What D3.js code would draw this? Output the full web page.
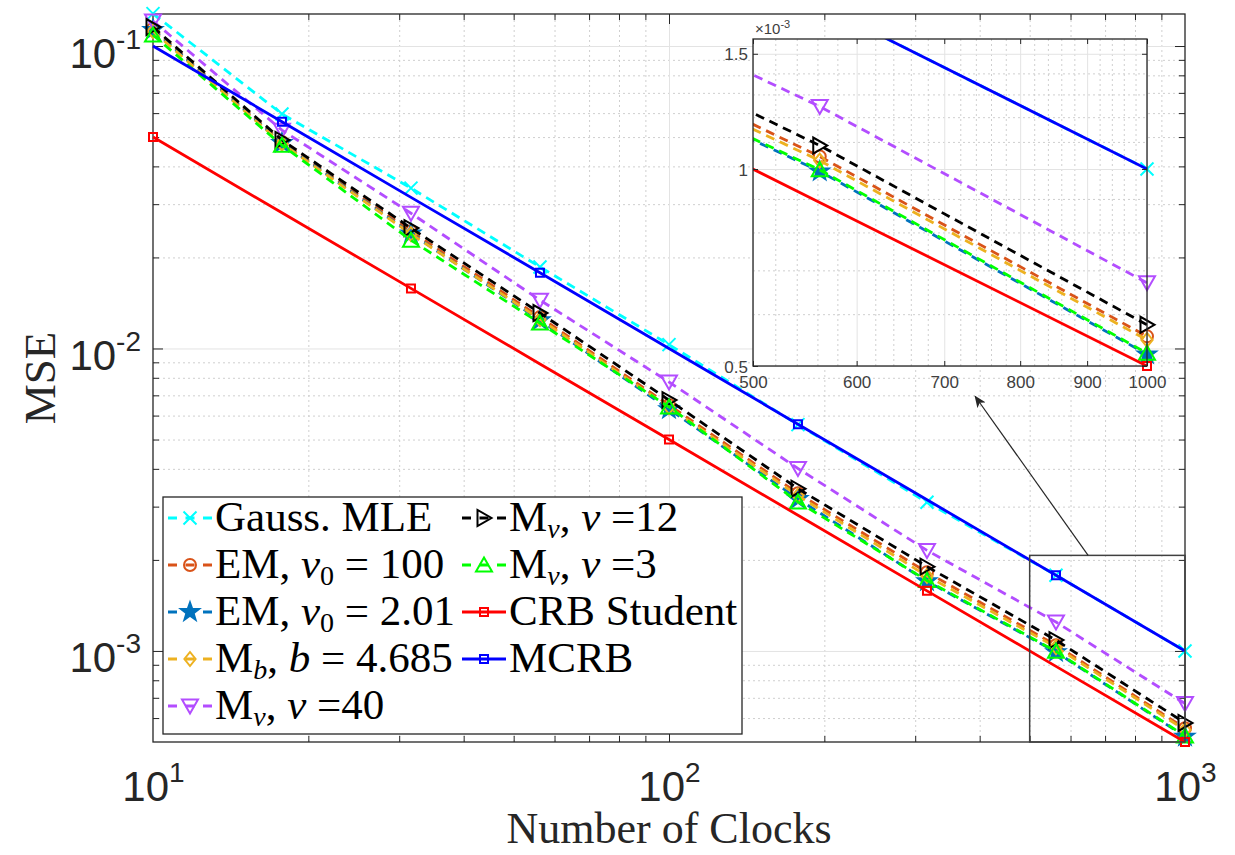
<!DOCTYPE html>
<html>
<head>
<meta charset="utf-8">
<script src="https://cdn.jsdelivr.net/npm/d3@7"></script>
<style>
  body { margin: 0; background: #fff; }
  svg { display: block; }
</style>
</head>
<body>
<svg id="chart" width="1235" height="855"></svg>
<script>
// ---- data --------------------------------------------------------------
const clocks   = [10, 17.78, 31.62, 56.23, 100, 177.8, 316.2, 562.3, 1000];

const gaussMLE = [0.128, 0.0596, 0.0339, 0.0186, 0.0103, 0.0056, 0.00310, 0.00178, 0.00100];
const em100    = [0.114, 0.0482, 0.0244, 0.0127, 0.0065, 0.00332, 0.00182, 0.001045, 0.000555];
const em201    = [0.113, 0.0478, 0.0240, 0.0124, 0.0063, 0.00318, 0.00170, 0.000992, 0.000521];
const mb4685   = [0.112, 0.0476, 0.0239, 0.0125, 0.0064, 0.00326, 0.00177, 0.00103, 0.000548];
const mnu40    = [0.121, 0.0527, 0.0280, 0.01445, 0.00775, 0.00401, 0.00215, 0.001246, 0.000670];
const mnu12    = [0.1155, 0.0489, 0.0250, 0.0131, 0.00675, 0.00344, 0.00190, 0.001086, 0.000578];
const mnu3     = [0.1087, 0.0470, 0.0228, 0.01213, 0.00641, 0.00311, 0.00171, 0.000997, 0.000523];
const crbStudent = [0.05, 0.0281, 0.0158, 0.00889, 0.005, 0.00281, 0.00158, 0.000889, 0.0005];
const mcrb     = [0.1, 0.0562, 0.0316, 0.0178, 0.01, 0.00562, 0.00316, 0.00178, 0.001];

const xTickValues = [10, 100, 1000];
const xTickExponents = ["1", "2", "3"];
const yTickValues = [1e-3, 1e-2, 1e-1];
const yTickExponents = ["-3", "-2", "-1"];

const insetXTicks = [500, 600, 700, 800, 900, 1000];
const insetYTicks = [0.5e-3, 1e-3, 1.5e-3];
const insetYTickLabels = ["0.5", "1", "1.5"];

// zoom window (data units of the main axes) and its pointer
const zoomBox = { x0: 500, x1: 1000, y0: 5e-4, y1: 2.07e-3 };
const pointer = { from: [649, 2.07e-3], to: [392, 6.95e-3] };

// ---- series styling ----------------------------------------------------
// markerOn picks which points carry a marker (bounds use alternating points)
const all = () => true, even = i => i % 2 === 0, odd = i => i % 2 === 1;
const series = [
  { values: gaussMLE,   color: "#00ffff", dash: true,  marker: "x",      markerOn: all,  label: [["Gauss. MLE"]] },
  { values: em100,      color: "#d95319", dash: true,  marker: "circle", markerOn: all,  label: [["EM, "], ["\u03bd", "it"], ["0", "sub"], [" = 100"]] },
  { values: em201,      color: "#0072bd", dash: true,  marker: "star",   markerOn: all,  label: [["EM, "], ["\u03bd", "it"], ["0", "sub"], [" = 2.01"]] },
  { values: mb4685,     color: "#edb120", dash: true,  marker: "diamond",markerOn: all,  label: [["M"], ["b", "subit"], [", "], ["b", "it"], [" = 4.685"]] },
  { values: mnu40,      color: "#b34dff", dash: true,  marker: "tdown",  markerOn: all,  label: [["M"], ["\u03bd", "subit"], [", "], ["\u03bd", "it"], [" =40"]] },
  { values: mnu12,      color: "#000000", dash: true,  marker: "tright", markerOn: all,  label: [["M"], ["\u03bd", "subit"], [", "], ["\u03bd", "it"], [" =12"]] },
  { values: mnu3,       color: "#00ff00", dash: true,  marker: "tup",    markerOn: all,  label: [["M"], ["\u03bd", "subit"], [", "], ["\u03bd", "it"], [" =3"]] },
  { values: crbStudent, color: "#ff0000", dash: false, marker: "square", markerOn: even, label: [["CRB Student"]] },
  { values: mcrb,       color: "#0000ff", dash: false, marker: "square", markerOn: odd,  label: [["MCRB"]] }
];

const AX = "#262626";
const SANS = "'Liberation Sans', Arial, sans-serif";
const SERIF = "'Liberation Serif', 'Times New Roman', serif";

function markerPath(type) {
  switch (type) {
    case "x":      { const r = 6.5; return `M${-r},${-r}L${r},${r}M${-r},${r}L${r},${-r}`; }
    case "circle": { const r = 6; return `M${r},0A${r},${r} 0 1,1 ${-r},0A${r},${r} 0 1,1 ${r},0Z`; }
    case "square": { const r = 4; return `M${-r},${-r}H${r}V${r}H${-r}Z`; }
    case "diamond":{ const r = 7; return `M0,${-r}L${r * 0.8},0L0,${r}L${-r * 0.8},0Z`; }
    case "tdown":  return "M-8,-6.5L8,-6.5L0,7.5Z";
    case "tup":    return "M-8,6.5L8,6.5L0,-7.5Z";
    case "tright": return "M-6.5,-8L-6.5,8L7.5,0Z";
    case "star": {
      const pts = [];
      for (let i = 0; i < 10; i++) {
        const r = i % 2 === 0 ? 9.5 : 3.8;
        const a = -Math.PI / 2 + i * Math.PI / 5;
        pts.push([r * Math.cos(a), r * Math.sin(a)]);
      }
      return "M" + pts.map(p => p.join(",")).join("L") + "Z";
    }
  }
}

function drawMarker(g, s, cx, cy) {
  g.append("path")
    .attr("d", markerPath(s.marker))
    .attr("transform", `translate(${cx},${cy})`)
    .attr("fill", s.marker === "star" ? s.color : "none")
    .attr("stroke", s.color)
    .attr("stroke-width", 2)
    .attr("stroke-linejoin", "miter");
}

const svg = d3.select("#chart");

// ---- main axes ---------------------------------------------------------
const box = { l: 153, r: 1185, t: 14, b: 742 };
const x = d3.scaleLog().domain([10, 1000]).range([box.l, box.r]);
const y = d3.scaleLog().domain([5e-4, 0.1276]).range([box.b, box.t]);

const xMinor = d3.range(2, 10).flatMap(k => [k * 10, k * 100]);
const yMinor = [6e-4, 7e-4, 8e-4, 9e-4]
  .concat(d3.range(2, 10).flatMap(k => [k * 1e-3, k * 1e-2]));

const main = svg.append("g");

// grid
function gridX(g, scale, values, top, bottom, dotted) {
  g.append("g").attr("transform", `translate(0,${bottom})`)
    .call(d3.axisBottom(scale).tickValues(values).tickSize(-(bottom - top)).tickFormat(""))
    .call(a => a.select(".domain").remove())
    .call(a => a.selectAll("line")
      .attr("stroke", dotted ? "#cfcfcf" : "#e3e3e3")
      .attr("stroke-width", 1)
      .attr("stroke-dasharray", dotted ? "2,3" : null));
}
function gridY(g, scale, values, left, right, dotted) {
  g.append("g").attr("transform", `translate(${left},0)`)
    .call(d3.axisLeft(scale).tickValues(values).tickSize(-(right - left)).tickFormat(""))
    .call(a => a.select(".domain").remove())
    .call(a => a.selectAll("line")
      .attr("stroke", dotted ? "#cfcfcf" : "#e3e3e3")
      .attr("stroke-width", 1)
      .attr("stroke-dasharray", dotted ? "2,3" : null));
}
gridX(main, x, xMinor, box.t, box.b, true);
gridY(main, y, yMinor, box.l, box.r, true);
gridX(main, x, [100], box.t, box.b, false);
gridY(main, y, yTickValues, box.l, box.r, false);

// ticks on all four sides, pointing inward
function tickSide(axisFn, scale, values, size, transform) {
  main.append("g").attr("transform", transform)
    .call(axisFn(scale).tickValues(values).tickSizeInner(size).tickSizeOuter(0).tickFormat(""))
    .call(a => a.select(".domain").remove())
    .call(a => a.selectAll("line").attr("stroke", AX).attr("stroke-width", 1));
}
tickSide(d3.axisBottom, x, xMinor, -6, `translate(0,${box.b})`);
tickSide(d3.axisTop, x, xMinor, -6, `translate(0,${box.t})`);
tickSide(d3.axisBottom, x, [100], -10, `translate(0,${box.b})`);
tickSide(d3.axisTop, x, [100], -10, `translate(0,${box.t})`);
tickSide(d3.axisLeft, y, yMinor, -6, `translate(${box.l},0)`);
tickSide(d3.axisRight, y, yMinor, -6, `translate(${box.r},0)`);
tickSide(d3.axisLeft, y, yTickValues, -10, `translate(${box.l},0)`);
tickSide(d3.axisRight, y, yTickValues, -10, `translate(${box.r},0)`);

// frame
main.append("rect")
  .attr("x", box.l).attr("y", box.t)
  .attr("width", box.r - box.l).attr("height", box.b - box.t)
  .attr("fill", "none").attr("stroke", AX).attr("stroke-width", 1.3);

// tick labels (power-of-ten form)
const xLab = main.append("g").attr("transform", `translate(0,${box.b})`)
  .call(d3.axisBottom(x).tickValues(xTickValues).tickSize(0).tickPadding(0));
xLab.select(".domain").remove();
xLab.selectAll("text").each(function (d, i) {
  const t = d3.select(this).text(null)
    .attr("y", 59).attr("dy", 0)
    .attr("text-anchor", "middle")
    .style("font-family", SANS).style("font-size", "42px").attr("fill", AX);
  t.append("tspan").text("10");
  t.append("tspan").style("font-size", "28px").attr("dy", -19).text(xTickExponents[i]);
});

const yLab = main.append("g").attr("transform", `translate(${box.l},0)`)
  .call(d3.axisLeft(y).tickValues(yTickValues).tickSize(0).tickPadding(0));
yLab.select(".domain").remove();
yLab.selectAll("text").each(function (d, i) {
  const t = d3.select(this).text(null)
    .attr("x", -12).attr("dy", 21)
    .attr("text-anchor", "end")
    .style("font-family", SANS).style("font-size", "42px").attr("fill", AX);
  t.append("tspan").text("10");
  t.append("tspan").style("font-size", "28px").attr("dy", -19).text(yTickExponents[i]);
});

// axis titles
svg.append("text")
  .attr("x", (box.l + box.r) / 2).attr("y", 843)
  .attr("text-anchor", "middle")
  .style("font-family", SERIF).style("font-size", "44px").attr("fill", AX)
  .text("Number of Clocks");
svg.append("text")
  .attr("transform", `translate(55,${(box.t + box.b) / 2}) rotate(-90)`)
  .attr("text-anchor", "middle")
  .style("font-family", SERIF).style("font-size", "45px").attr("fill", AX)
  .text("MSE");

// series
const line = d3.line().x(d => x(d[0])).y(d => y(d[1]));
series.forEach(s => {
  const pts = clocks.map((c, i) => [c, s.values[i]]);
  main.append("path")
    .attr("d", line(pts))
    .attr("fill", "none")
    .attr("stroke", s.color)
    .attr("stroke-width", 2.8)
    .attr("stroke-dasharray", s.dash ? "9,6" : null);
  const mg = main.append("g");
  pts.forEach((p, i) => { if (s.markerOn(i)) drawMarker(mg, s, x(p[0]), y(p[1])); });
});

// zoom window and pointer
main.append("rect")
  .attr("x", x(zoomBox.x0)).attr("y", y(zoomBox.y1))
  .attr("width", x(zoomBox.x1) - x(zoomBox.x0))
  .attr("height", y(zoomBox.y0) - y(zoomBox.y1))
  .attr("fill", "none").attr("stroke", "#404040").attr("stroke-width", 1.5);

svg.append("defs").append("marker")
  .attr("id", "arrowhead")
  .attr("viewBox", "0 0 12 10").attr("refX", 11).attr("refY", 5)
  .attr("markerWidth", 12).attr("markerHeight", 10)
  .attr("markerUnits", "userSpaceOnUse")
  .attr("orient", "auto")
  .append("path").attr("d", "M0,0L12,5L0,10L3,5Z").attr("fill", "#262626");

main.append("line")
  .attr("x1", x(pointer.from[0])).attr("y1", y(pointer.from[1]))
  .attr("x2", x(pointer.to[0])).attr("y2", y(pointer.to[1]))
  .attr("stroke", "#262626").attr("stroke-width", 1.2)
  .attr("marker-end", "url(#arrowhead)");

// ---- legend ------------------------------------------------------------
const legend = svg.append("g");
legend.append("rect")
  .attr("x", 163).attr("y", 497).attr("width", 579).attr("height", 237)
  .attr("fill", "#fff").attr("stroke", AX).attr("stroke-width", 1.3);

const legendCols = [168, 462];
const rowY = [518, 565, 612, 659, 706];
series.forEach((s, i) => {
  const col = i < 5 ? 0 : 1;
  const row = i < 5 ? i : i - 5;
  const lx = legendCols[col], ly = rowY[row];
  legend.append("path")
    .attr("d", `M${lx},${ly}L${lx + 44},${ly}`)
    .attr("stroke", s.color).attr("stroke-width", 2.8)
    .attr("stroke-dasharray", s.dash ? "9,8.5,9,8.5,9" : null);
  drawMarker(legend, s, lx + 22, ly);
  const t = legend.append("text")
    .attr("x", lx + 47).attr("y", ly + 13)
    .style("font-family", SERIF).style("font-size", "43px").attr("fill", "#000");
  let shifted = false;
  s.label.forEach(([str, kind]) => {
    const sp = t.append("tspan").text(str);
    if (kind === "it") sp.style("font-style", "italic");
    if (kind === "sub" || kind === "subit") {
      sp.style("font-size", "28px").attr("dy", 7);
      if (kind === "subit") sp.style("font-style", "italic");
      shifted = true;
    } else if (shifted) {
      sp.attr("dy", -7);
      shifted = false;
    }
  });
});

// ---- inset -------------------------------------------------------------
const ib = { l: 753, r: 1147, t: 39, b: 366 };
const xi = d3.scaleLog().domain([500, 1000]).range([ib.l, ib.r]);
const yi = d3.scaleLog().domain([5e-4, 1.58e-3]).range([ib.b, ib.t]);
const inset = svg.append("g");

inset.append("rect")
  .attr("x", ib.l).attr("y", ib.t).attr("width", ib.r - ib.l).attr("height", ib.b - ib.t)
  .attr("fill", "#fff");

const ixMinor = d3.range(520, 1000, 20).filter(v => v % 100 !== 0);
const iyMinor = [6e-4, 7e-4, 8e-4, 9e-4, 1.1e-3, 1.2e-3, 1.3e-3, 1.4e-3];
gridX(inset, xi, ixMinor, ib.t, ib.b, true);
gridY(inset, yi, iyMinor, ib.l, ib.r, true);
gridX(inset, xi, insetXTicks, ib.t, ib.b, false);
gridY(inset, yi, insetYTicks, ib.l, ib.r, false);

svg.append("clipPath").attr("id", "insetClip")
  .append("rect").attr("x", ib.l).attr("y", ib.t)
  .attr("width", ib.r - ib.l).attr("height", ib.b - ib.t);

const lineI = d3.line().x(d => xi(d[0])).y(d => yi(d[1]));
series.forEach(s => {
  const pts = clocks.map((c, i) => [c, s.values[i]]);
  inset.append("path")
    .attr("d", lineI(pts))
    .attr("clip-path", "url(#insetClip)")
    .attr("fill", "none")
    .attr("stroke", s.color)
    .attr("stroke-width", 2.8)
    .attr("stroke-dasharray", s.dash ? "9,6" : null);
  const mg = inset.append("g");
  pts.forEach((p, i) => {
    if (s.markerOn(i) && p[0] >= 500 && p[1] <= 1.6e-3) drawMarker(mg, s, xi(p[0]), yi(p[1]));
  });
});

function insetTicks(axisFn, scale, values, size, transform) {
  inset.append("g").attr("transform", transform)
    .call(axisFn(scale).tickValues(values).tickSizeInner(size).tickSizeOuter(0).tickFormat(""))
    .call(a => a.select(".domain").remove())
    .call(a => a.selectAll("line").attr("stroke", AX).attr("stroke-width", 1));
}
insetTicks(d3.axisBottom, xi, insetXTicks, -5, `translate(0,${ib.b})`);
insetTicks(d3.axisTop, xi, insetXTicks, -5, `translate(0,${ib.t})`);
insetTicks(d3.axisLeft, yi, insetYTicks, -5, `translate(${ib.l},0)`);
insetTicks(d3.axisRight, yi, insetYTicks, -5, `translate(${ib.r},0)`);

inset.append("rect")
  .attr("x", ib.l).attr("y", ib.t).attr("width", ib.r - ib.l).attr("height", ib.b - ib.t)
  .attr("fill", "none").attr("stroke", AX).attr("stroke-width", 1.3);

const ixLab = inset.append("g").attr("transform", `translate(0,${ib.b})`)
  .call(d3.axisBottom(xi).tickValues(insetXTicks).tickSize(0).tickPadding(0).tickFormat(d3.format("d")));
ixLab.select(".domain").remove();
ixLab.selectAll("text").attr("y", 22).attr("dy", 0)
  .style("font-family", SANS).style("font-size", "17px").attr("fill", "#404040");

const iyLab = inset.append("g").attr("transform", `translate(${ib.l},0)`)
  .call(d3.axisLeft(yi).tickValues(insetYTicks).tickSize(0).tickPadding(0)
    .tickFormat((d, i) => insetYTickLabels[i]));
iyLab.select(".domain").remove();
iyLab.selectAll("text").attr("x", -5).attr("dy", 6)
  .style("font-family", SANS).style("font-size", "17px").attr("fill", "#404040");

const mult = inset.append("text")
  .attr("x", ib.l + 2).attr("y", ib.t - 5)
  .style("font-family", SANS).style("font-size", "15px").attr("fill", "#404040");
mult.append("tspan").text("\u00d710");
mult.append("tspan").style("font-size", "11px").attr("dy", -6).text("-3");
</script>
</body>
</html>
